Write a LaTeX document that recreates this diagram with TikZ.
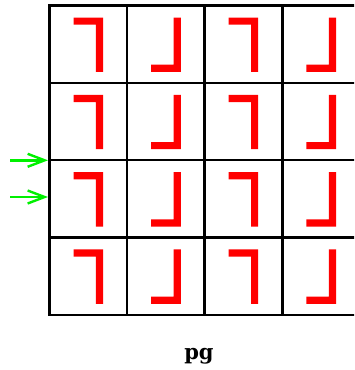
\documentclass[tikz,border=0pt]{standalone}
\usepackage{fontspec}
\newfontfamily\labelfont{DejaVu Serif}
\usetikzlibrary{arrows.meta}
\definecolor{arrowgreen}{RGB}{0,240,0}
\tikzset{
  gridline/.style={draw=black,line width=2.6pt,line cap=rect},
  lmark/.style={fill=red,draw=none},
  inarrow/.style={draw=arrowgreen,line width=2.4pt,-{Straight Barb[length=17pt,width=13pt,line width=2.4pt]}},
}
\begin{document}
\begin{tikzpicture}[x=1pt,y=-1pt]
\useasboundingbox (0,0) rectangle (354,370);
\clip (0,0) rectangle (354,370);
% grid
\foreach \k in {0,...,4}{
  \draw[gridline] (49.5,{5.5+77.33*\k}) -- (362,{5.5+77.33*\k});
}
\foreach \k in {0,...,3}{
  \draw[gridline] ({49.5+77.6*\k},5.5) -- ({49.5+77.6*\k},314.8);
}
% red marks
\foreach \c in {0,...,3}{
  \foreach \r in {0,...,3}{
    \pgfmathsetmacro{\ox}{49.5+77.6*\c}
    \pgfmathsetmacro{\oy}{5.5+77.33*\r}
    \begin{scope}[shift={(\ox,\oy)}]
      \ifodd\c
        \fill[lmark] (46.5,12) -- (53.7,12) -- (53.7,66.4) -- (24,66.4) -- (24,59.2) -- (46.5,59.2) -- cycle;
      \else
        \fill[lmark] (24,12) -- (53.5,12) -- (53.5,66.4) -- (46.3,66.4) -- (46.3,19.2) -- (24,19.2) -- cycle;
      \fi
    \end{scope}
  }
}
% arrows
\coordinate (a1s) at (10,160.3);
\coordinate (a1e) at (48,160.3);
\coordinate (a2s) at (10,197);
\coordinate (a2e) at (48,197);
\draw[inarrow] (a1s) -- (a1e);
\draw[inarrow] (a2s) -- (a2e);
% label
\node[anchor=base,inner sep=0pt,font=\labelfont\bfseries\fontsize{21}{24}\selectfont] (lbl) at (199,359) {pg};
\end{tikzpicture}
\end{document}
